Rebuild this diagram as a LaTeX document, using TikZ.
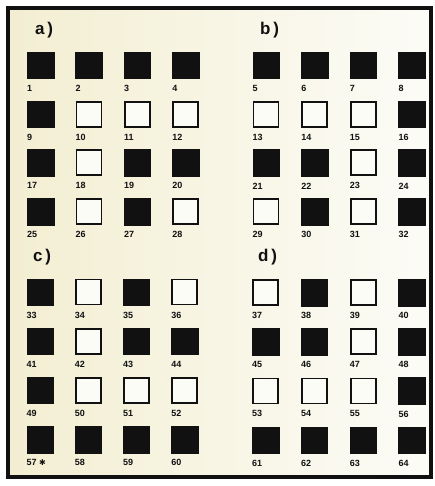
\documentclass[tikz,border=0pt]{standalone}
\usepackage{fontspec}
\setmainfont{Liberation Sans}
\newfontfamily\dvsym{DejaVu Sans}
\definecolor{cream}{HTML}{F3EED2}
\definecolor{paper}{HTML}{FCFCF7}
\definecolor{ink}{HTML}{111111}
\tikzset{
  fullsq/.style={draw=ink, fill=ink, line width=0.5, minimum size=26.5, inner sep=0, anchor=center},
  opensq/.style={draw=ink, fill=paper, line width=1.8, minimum size=25, inner sep=0, anchor=center},
  numlab/.style={anchor=west, inner sep=0, font=\bfseries\fontsize{9}{9}\selectfont, text=ink},
  panlab/.style={anchor=west, inner sep=0, font=\bfseries\fontsize{17}{17}\selectfont, text=ink},
  frame/.style={draw=ink, line width=4}
}
\newcommand\sqpanel[6]{%
  \foreach \f [count=\i from 0] in {#6} {%
    \pgfmathtruncatemacro\rr{floor(\i/4)}%
    \pgfmathtruncatemacro\cc{mod(\i,4)}%
    \pgfmathtruncatemacro\nn{#5+8*\rr+\cc}%
    \pgfmathsetmacro\xx{#1+\cc*#3+13.5}%
    \pgfmathsetmacro\yy{#2+\rr*#4+13.5}%
    \pgfmathsetmacro\ly{#2+\rr*#4+36.5}%
    \pgfmathsetmacro\lx{#1+\cc*#3}%
    \ifnum\f=1
      \node[fullsq] (s\nn) at (\xx,\yy) {};
    \else
      \node[opensq] (s\nn) at (\xx,\yy) {};
    \fi
    \ifnum\nn=57
      \node[numlab] (l\nn) at (\lx,\ly) {57 {\dvsym\fontsize{8}{8}\selectfont ✱}};
    \else
      \node[numlab] (l\nn) at (\lx,\ly) {\nn};
    \fi
  }%
}
\begin{document}
\begin{tikzpicture}[x=1pt,y=-1pt]
\useasboundingbox (0,0) rectangle (435,486);
\fill[white] (0,0) rectangle (435,486);
\shade[left color=cream, right color=paper] (8,8) rectangle (431,477);
\draw[frame] (8,8) rectangle (431,477);
\node[panlab] (pa) at (35,30) {a\,)};
\node[panlab] (pb) at (260,30) {b\,)};
\node[panlab] (pc) at (33,257) {c\,)};
\node[panlab] (pd) at (258,257) {d\,)};
\sqpanel{27}{52}{48.4}{48.7}{1}{1,1,1,1, 1,0,0,0, 1,0,1,1, 1,0,1,0}
\sqpanel{252.5}{52}{48.6}{48.7}{5}{1,1,1,1, 0,0,0,1, 1,1,0,1, 0,1,0,1}
\sqpanel{26.5}{278.5}{48.2}{49.2}{33}{1,0,1,0, 1,0,1,1, 1,0,0,0, 1,1,1,1}
\sqpanel{252}{279}{48.8}{49.2}{37}{0,1,0,1, 1,1,0,1, 0,0,0,1, 1,1,1,1}
\end{tikzpicture}
\end{document}
